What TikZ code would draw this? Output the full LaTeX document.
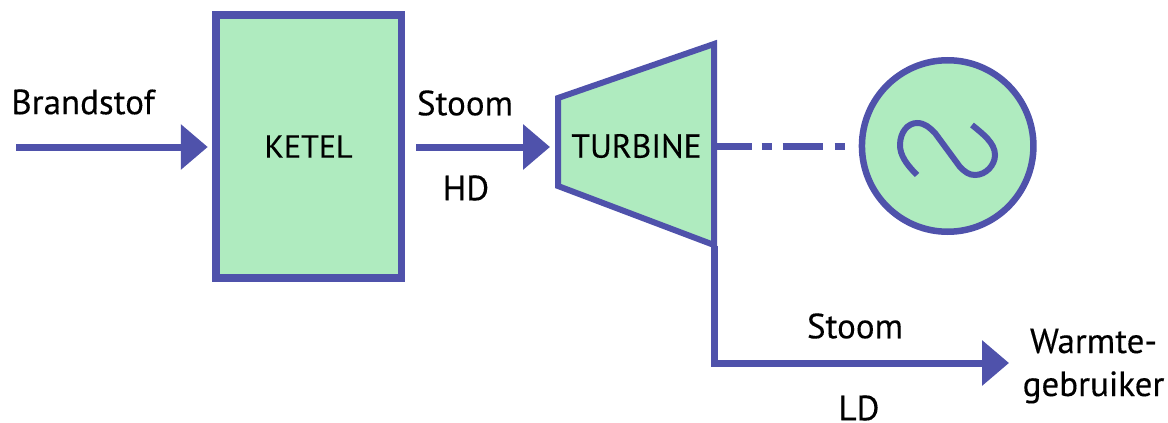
\documentclass[tikz,border=0pt]{standalone}
\usepackage{fontspec}
\setmainfont[FakeBold=0.25]{PT Sans}
\usetikzlibrary{arrows.meta}
\definecolor{flow}{HTML}{4F52AB}
\definecolor{fillg}{HTML}{AFEBBF}
\tikzset{
  x=1pt,y=-1pt,
  unit/.style={draw=flow,fill=fillg,line width=6pt},
  pipe/.style={draw=flow,line width=7pt,-{Triangle[length=27pt,width=44pt,fill=flow]}},
  lbl/.style={inner sep=0pt,font=\fontsize{35}{43}\selectfont,text=black},
}
\begin{document}
\begin{tikzpicture}
\useasboundingbox (0,0) rectangle (1168,423);
\draw[unit,line join=miter] (558,98) -- (714,44) -- (714,245) -- (558,186) -- cycle;
\node[unit,line width=7.5pt,rectangle,minimum width=185.5pt,minimum height=263pt,inner sep=0pt,outer sep=0pt,lbl,font=\fontsize{32}{43}\selectfont] (ketel) at (308.5,146.5) {KETEL};
\node[lbl,font=\fontsize{33.5}{43}\selectfont,minimum width=156pt,minimum height=199pt,outer sep=0pt] (turbine) at (636.5,146) {TURBINE};
\node[unit,line width=6.5pt,circle,minimum size=171.5pt,inner sep=0pt,outer sep=3.25pt] (gen) at (947.7,146) {};
\draw[flow,line width=6pt,line cap=butt]
  (917,175) .. controls (906,164) and (900,155) .. (900,145)
  .. controls (900,132) and (908,123) .. (917,123)
  .. controls (925,123) and (930,128) .. (935,133)
  -- (960,167)
  .. controls (965,172) and (969,175) .. (975,175)
  .. controls (986,175) and (995,165) .. (995,155)
  .. controls (995,143) and (983,134) .. (972,125);
\node[lbl] (brand) at (83,102) {Brandstof};
\node[lbl] (hsteam) at (465,103) {Stoom};
\node[lbl] (hd) at (466,188) {HD};
\node[lbl] (lsteam) at (855,326) {Stoom};
\node[lbl] (ld) at (859,408) {LD};
\node[lbl,align=center] (warm) at (1093.5,366) {Warmte-\\gebruiker};
\coordinate (fuelin) at (16,147);
\coordinate (steamin) at (416,147);
\coordinate (usertip) at (1009,363);
\draw[pipe,shorten >=8pt] (fuelin) -- (ketel.west |- fuelin);
\draw[pipe,shorten >=8.5pt] (steamin) -- (turbine.west |- steamin);
\draw[flow,line width=7pt,dash pattern=on 37pt off 10pt on 10pt off 11pt on 40pt off 12pt on 10pt off 20pt] (turbine.east) -- (gen.west);
\draw[pipe] (turbine.south east) |- (usertip);
\end{tikzpicture}
\end{document}
